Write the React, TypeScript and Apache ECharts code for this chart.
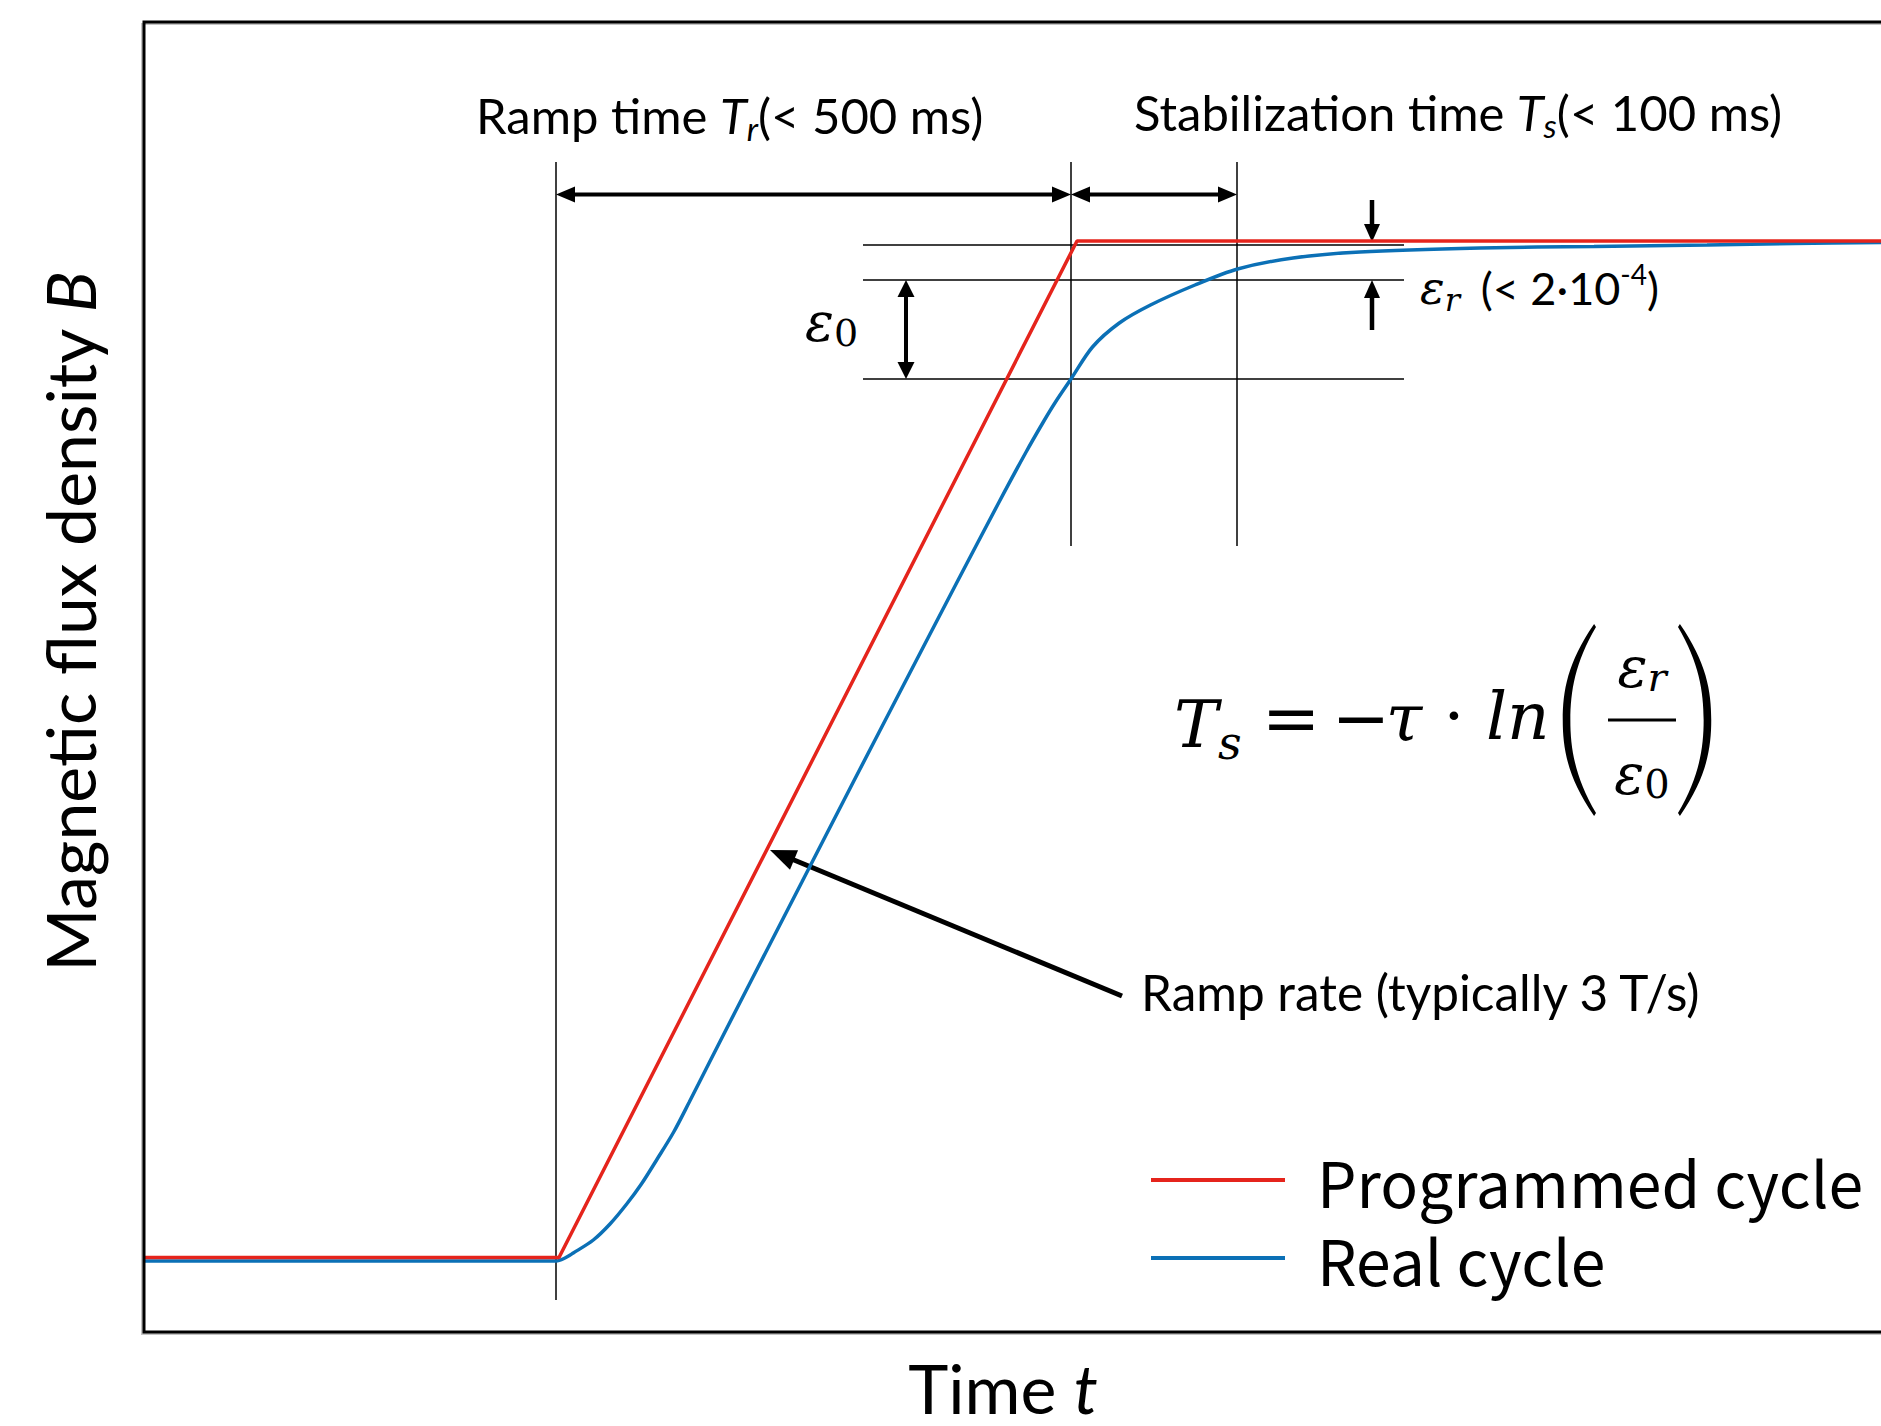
import React, { useEffect, useRef } from "react";
import * as echarts from "echarts";

// ---------------- data (time in arbitrary units, field B in arbitrary units) ----------------
const seriesNames = ["Programmed cycle", "Real cycle"];

const programmedTime = [0, 41.5, 93.3, 173.7];
const programmedField = [7.45, 7.45, 109.1, 109.1];

const realTime = [0, 41.2, 42.0, 42.93, 44.93, 46.6, 48.27, 49.74, 51.32, 52.97, 54.53, 56.56, 59.11, 62.19, 65.79, 70.93, 76.11, 81.31, 85.51, 88.21, 89.93, 91.15, 92.7, 94.85, 97.53, 100.65, 105.1, 109.36, 114.9, 121.6, 133.6, 145.0, 156.3, 165.0, 173.7];
const realField = [7.1, 7.1, 7.35, 7.9, 9.2, 10.8, 12.8, 14.8, 17.3, 20.0, 23.0, 27.0, 32.0, 38.0, 45.0, 55.0, 65.0, 75.0, 83.0, 88.0, 91.0, 93.0, 95.3, 98.5, 100.9, 102.7, 104.7, 106.3, 107.4, 108.0, 108.4, 108.55, 108.7, 108.85, 108.95];

// annotation anchors (data units)
const rampStart = 41.2;
const rampEnd = 92.7;
const stabEnd = 109.3;
const markerTop = 117.0;
const longMarkerBottom = 3.2;
const shortMarkerBottom = 78.6;
const bandLeft = 71.9;
const bandRight = 126.0;
const levelTarget = 108.7;
const levelEpsR = 105.2;
const levelEps0 = 95.3;
const spanArrowLevel = 113.76;
const eps0ArrowTime = 76.2;
const epsRArrowTime = 122.8;
const epsRDownFrom = 113.2;
const epsRDownTo = 109.0;
const epsRUpFrom = 100.2;
const rateArrowFrom = [97.8, 33.6];
const rateArrowTo = [62.6, 48.2];

const xMin = 0;
const xMax = 173.7;
const yMin = 0;
const yMax = 131;

const K = "#000";
const SANS = "Lato, 'Open Sans', sans-serif";
const MATH = "'DejaVu Serif', 'Liberation Serif', serif";
const RED = "#e5241c";
const BLUE = "#0b70b6";

const PAREN_D =
  "M38,0 C10,40 5,70 5,100 C5,130 10,160 38,200 L40,197 C18,160 13,130 13,100 C13,70 18,40 40,3 Z";
echarts.graphic.registerShape("paren", echarts.graphic.extendPath(PAREN_D, {}));

type P = number[];

function buildGraphic(px: (t: number, b: number) => P) {
  const els: any[] = [];
  const line = (a: P, b: P, w: number) => ({
    type: "line",
    silent: true,
    shape: { x1: a[0], y1: a[1], x2: b[0], y2: b[1] },
    style: { stroke: K, lineWidth: w },
  });
  const head = (tip: P, from: P, len: number, wid: number) => {
    const dx = tip[0] - from[0];
    const dy = tip[1] - from[1];
    const d = Math.hypot(dx, dy);
    const ux = dx / d;
    const uy = dy / d;
    const bx = tip[0] - ux * len;
    const by = tip[1] - uy * len;
    const nx = (-uy * wid) / 2;
    const ny = (ux * wid) / 2;
    return {
      type: "polygon",
      silent: true,
      shape: { points: [tip, [bx + nx, by + ny], [bx - nx, by - ny]] },
      style: { fill: K },
    };
  };
  const trim = (a: P, b: P, l: number): P => {
    const dx = b[0] - a[0];
    const dy = b[1] - a[1];
    const d = Math.hypot(dx, dy);
    return [b[0] - (dx / d) * l, b[1] - (dy / d) * l];
  };
  const arrow = (from: P, tip: P, w: number, len: number, wid: number) => {
    els.push(line(from, trim(from, tip, len * 0.8), w));
    els.push(head(tip, from, len, wid));
  };
  const dbl = (a: P, b: P, w: number, len: number, wid: number) => {
    els.push(line(trim(b, a, len * 0.8), trim(a, b, len * 0.8), w));
    els.push(head(a, b, len, wid));
    els.push(head(b, a, len, wid));
  };
  const txt = (x: number, y: number, text: string, fontSize: number, family: string, italic: boolean, align = "left") => ({
    type: "text",
    silent: true,
    x,
    y,
    style: {
      text,
      fill: K,
      fontSize,
      fontFamily: family,
      fontStyle: italic ? "italic" : "normal",
      align,
      verticalAlign: "middle",
    },
  });
  const rich = (x: number, y: number, text: string, r: any, align = "left") => ({
    type: "text",
    silent: true,
    x,
    y,
    style: { text, rich: r, fill: K, align, verticalAlign: "middle" },
  });

  // frame (left, top, bottom; right side lies beyond the picture)
  els.push({
    type: "polyline",
    silent: true,
    z: -10,
    shape: { points: [[1890, 24], [142, 24], [142, 1334], [1890, 1334]] },
    style: { fill: "none", stroke: "#c4c4c4", lineWidth: 2 },
  });
  els.push({
    type: "polyline",
    silent: true,
    z: 10,
    shape: { points: [[1890, 22], [144, 22], [144, 1332], [1890, 1332]] },
    style: { fill: "none", stroke: K, lineWidth: 3 },
  });

  // thin guide lines
  els.push(line(px(rampStart, markerTop), px(rampStart, longMarkerBottom), 1.5));
  els.push(line(px(rampEnd, markerTop), px(rampEnd, shortMarkerBottom), 1.5));
  els.push(line(px(stabEnd, markerTop), px(stabEnd, shortMarkerBottom), 1.5));
  [levelTarget, levelEpsR, levelEps0].forEach((lv) => {
    els.push(line(px(bandLeft, lv), px(bandRight, lv), 1.5));
  });

  // span arrows
  dbl(px(rampStart, spanArrowLevel), px(rampEnd, spanArrowLevel), 4, 19, 16);
  dbl(px(rampEnd, spanArrowLevel), px(stabEnd, spanArrowLevel), 4, 19, 16);
  // epsilon_0 arrow
  dbl(px(eps0ArrowTime, levelEpsR), px(eps0ArrowTime, levelEps0), 4, 17, 17);
  // epsilon_r arrows
  arrow(px(epsRArrowTime, epsRDownFrom), px(epsRArrowTime, epsRDownTo), 4.5, 18, 16);
  arrow(px(epsRArrowTime, epsRUpFrom), px(epsRArrowTime, levelEpsR), 4.5, 18, 16);
  // ramp rate arrow
  arrow(px(rateArrowFrom[0], rateArrowFrom[1]), px(rateArrowTo[0], rateArrowTo[1]), 5, 26, 21);

  // top labels
  const labelRich = {
    n: { fontFamily: SANS, fontSize: 49, lineHeight: 58, fill: K },
    i: { fontFamily: SANS, fontStyle: "italic", fontSize: 49, lineHeight: 58, fill: K },
    s: { fontFamily: SANS, fontStyle: "italic", fontSize: 33, lineHeight: 33, verticalAlign: "bottom", fill: K },
  };
  els.push(rich(476, 115, "{n|Ramp time }{i|T}{s|r}{n|(< 500 ms)}", labelRich));
  els.push(rich(1134, 112, "{n|Stabilization time }{i|T}{s|s}{n|(< 100 ms)}", labelRich));
  els.push(txt(1141, 992, "Ramp rate (typically 3 T/s)", 49.5, SANS, false));

  // epsilon labels
  const epsRich = {
    e: { fontFamily: MATH, fontStyle: "italic", fontSize: 54, lineHeight: 60, fill: K },
    s: { fontFamily: MATH, fontStyle: "italic", fontSize: 38, lineHeight: 38, verticalAlign: "bottom", fill: K },
    z: { fontFamily: MATH, fontSize: 38, lineHeight: 38, verticalAlign: "bottom", fill: K },
    n: { fontFamily: SANS, fontSize: 44, lineHeight: 60, fill: K },
    sup: { fontFamily: SANS, fontSize: 28, lineHeight: 30, verticalAlign: "top", fill: K },
  };
  els.push(rich(805, 322, "{e|ε}{z|0}", epsRich));
  const epsRSmall = {
    ...epsRich,
    e: { fontFamily: MATH, fontStyle: "italic", fontSize: 46, lineHeight: 56, fill: K },
    s: { fontFamily: MATH, fontStyle: "italic", fontSize: 32, lineHeight: 32, verticalAlign: "bottom", fill: K },
    n: { fontFamily: SANS, fontSize: 45, lineHeight: 56, fill: K },
    sp: { fontFamily: SANS, fontSize: 36, lineHeight: 36, fill: K },
  };
  els.push(rich(1420, 288, "{e|ε}{s|r}{n| }{sp| }{n|(< 2·10}{sup|-4}{n|)}", epsRSmall));

  // formula T_s = -tau * ln(eps_r / eps_0)
  const fRich = {
    i: { fontFamily: MATH, fontStyle: "italic", fontSize: 66, lineHeight: 84, fill: K },
    s: { fontFamily: MATH, fontStyle: "italic", fontSize: 46, lineHeight: 44, verticalAlign: "bottom", fill: K },
  };
  els.push(rich(1174, 724, "{i|T}{s|s}", fRich));
  els.push(txt(1291, 718, "=", 70, MATH, false, "center"));
  els.push(txt(1361, 718, "−", 70, MATH, false, "center"));
  els.push(txt(1404, 718, "τ", 66, MATH, true, "center"));
  els.push(txt(1454, 716, "·", 66, MATH, false, "center"));
  els.push(txt(1486, 716, "ln", 66, MATH, true));
  els.push({ type: "paren", silent: true, x: 1558, y: 624, scaleX: 0.95, scaleY: 0.96, style: { fill: K } });
  els.push({ type: "paren", silent: true, x: 1716, y: 624, scaleX: -0.95, scaleY: 0.96, style: { fill: K } });
  const fracRich = {
    e: { fontFamily: MATH, fontStyle: "italic", fontSize: 56, lineHeight: 60, fill: K },
    s: { fontFamily: MATH, fontStyle: "italic", fontSize: 40, lineHeight: 40, verticalAlign: "bottom", fill: K },
    z: { fontFamily: MATH, fontSize: 40, lineHeight: 40, verticalAlign: "bottom", fill: K },
  };
  els.push(rich(1642, 667, "{e|ε}{s|r}", fracRich, "center"));
  els.push(line([1608, 720], [1676, 720], 3));
  els.push(rich(1642, 774, "{e|ε}{z|0}", fracRich, "center"));

  return els;
}

export default function App() {
  const ref = useRef<HTMLDivElement>(null);
  useEffect(() => {
    const chart = echarts.init(ref.current!, null, { renderer: "svg" });
    const option: any = {
      animation: false,
      backgroundColor: "#fff",
      grid: {
        left: 144,
        top: 22,
        right: 0,
        bottom: 94,
        show: false,
        containLabel: false,
        outerBoundsMode: "none",
      },
      legend: {
        orient: "vertical",
        left: 1146,
        top: 1140,
        icon: "rect",
        itemWidth: 134,
        itemHeight: 4,
        itemGap: 8,
        selectedMode: false,
        data: seriesNames,
        textStyle: {
          fontFamily: "'Noto Sans CJK KR', sans-serif",
          fontSize: 62.5,
          lineHeight: 70,
          color: K,
          padding: [0, 0, 0, 27],
        },
      },
      xAxis: {
        type: "value",
        min: xMin,
        max: xMax,
        axisLine: { show: false },
        axisTick: { show: false },
        axisLabel: { show: false },
        splitLine: { show: false },
        name: "{n|Time }{i|t}",
        nameLocation: "middle",
        nameGap: 55,
        nameTextStyle: {
          verticalAlign: "middle",
          padding: [0, 19, 0, 0],
          rich: {
            n: { fontFamily: SANS, fontSize: 68, color: K },
            i: { fontFamily: SANS, fontStyle: "italic", fontSize: 68, color: K },
          },
        },
      },
      yAxis: {
        type: "value",
        min: yMin,
        max: yMax,
        axisLine: { show: false },
        axisTick: { show: false },
        axisLabel: { show: false },
        splitLine: { show: false },
        name: "{n|Magnetic flux density }{i|B}",
        nameLocation: "middle",
        nameRotate: 90,
        nameGap: 75,
        nameTextStyle: {
          verticalAlign: "middle",
          padding: [0, 0, 0, 110],
          rich: {
            n: { fontFamily: SANS, fontSize: 68, color: K },
            i: { fontFamily: SANS, fontStyle: "italic", fontSize: 68, color: K },
          },
        },
      },
      series: [
        {
          name: seriesNames[1],
          type: "line",
          data: realTime.map((t, i) => [t, realField[i]]),
          symbol: "none",
          smooth: 0.3,
          lineStyle: { color: BLUE, width: 3.5 },
          itemStyle: { color: BLUE },
          z: 2,
        },
        {
          name: seriesNames[0],
          type: "line",
          data: programmedTime.map((t, i) => [t, programmedField[i]]),
          symbol: "none",
          lineStyle: { color: RED, width: 3.5 },
          itemStyle: { color: RED },
          z: 3,
        },
      ],
    };
    chart.setOption(option);
    const px = (t: number, b: number) => chart.convertToPixel({ gridIndex: 0 }, [t, b]) as number[];
    chart.setOption({ graphic: buildGraphic(px) });
    return () => chart.dispose();
  }, []);
  return (
    <div
      ref={ref}
      style={{ position: "fixed", left: 0, top: 0, width: 1881, height: 1426, background: "#fff" }}
    />
  );
}
